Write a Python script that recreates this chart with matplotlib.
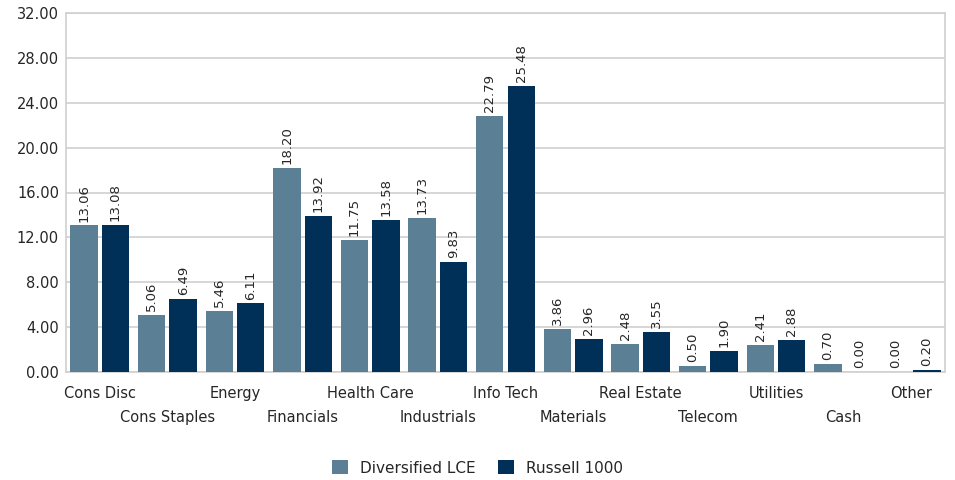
import matplotlib
matplotlib.use("Agg")
import matplotlib.pyplot as plt
import numpy as np

categories = ["Cons Disc", "Cons Staples", "Energy", "Financials", "Health Care",
              "Industrials", "Info Tech", "Materials", "Real Estate", "Telecom",
              "Utilities", "Cash", "Other"]
diversified = [13.06, 5.06, 5.46, 18.20, 11.75, 13.73, 22.79, 3.86, 2.48, 0.50, 2.41, 0.70, 0.00]
russell = [13.08, 6.49, 6.11, 13.92, 13.58, 9.83, 25.48, 2.96, 3.55, 1.90, 2.88, 0.00, 0.20]
series_names = ["Diversified LCE", "Russell 1000"]
yticks = [0, 4, 8, 12, 16, 20, 24, 28, 32]

c1 = "#5b7f95"
c2 = "#003057"
txt = "#262626"
plt.rcParams['font.family'] = ['DejaVu Sans']

fig = plt.figure(figsize=(9.55, 4.8), dpi=100)
ax = fig.add_axes([66/955, 108/480, (945-66)/955, (372-13)/480])

n = len(categories)
x = np.arange(n)
w = 0.405
gap = 0.06
b1 = ax.bar(x - w/2 - gap/2, diversified, w, color=c1, label=series_names[0], zorder=3)
b2 = ax.bar(x + w/2 + gap/2, russell, w, color=c2, label=series_names[1], zorder=3)

for bars, vals in ((b1, diversified), (b2, russell)):
    for r, v in zip(bars, vals):
        ax.text(r.get_x() + r.get_width()/2, v + 0.35, f"{v:.2f}", rotation=90,
                ha='center', va='bottom', fontsize=9.5, color=txt)

ax.set_xlim(-0.5, n - 0.5)
ax.set_ylim(0, 32)
ax.set_yticks(yticks)
ax.set_yticklabels([f"{t:.2f}" for t in yticks], fontsize=10.5, color=txt)
ax.yaxis.grid(True, color='#d0d0d0', linewidth=1.2, zorder=0)
ax.set_axisbelow(True)
ax.tick_params(axis='y', length=0, pad=5)
ax.tick_params(axis='x', length=0)
for s in ax.spines.values():
    s.set_color('#d0d0d0')
    s.set_linewidth(1.2)

ax.set_xticks(x)
ax.set_xticklabels([])
for i, c in enumerate(categories):
    ax.annotate(c, xy=(i, 0), xycoords=ax.get_xaxis_transform(),
                xytext=(0, -15.5 if i % 2 == 0 else -32.5), textcoords='offset points',
                ha='center', va='center', fontsize=10.5, color=txt)

leg = fig.legend(handles=[b1, b2], labels=series_names, loc='center',
                 bbox_to_anchor=(0.5, 12/480), ncol=2, frameon=False,
                 fontsize=11, handlelength=1.0, handleheight=1.0, columnspacing=1.5,
                 handletextpad=0.8)
for t in leg.get_texts():
    t.set_color(txt)

fig.savefig("out.png", dpi=100)
